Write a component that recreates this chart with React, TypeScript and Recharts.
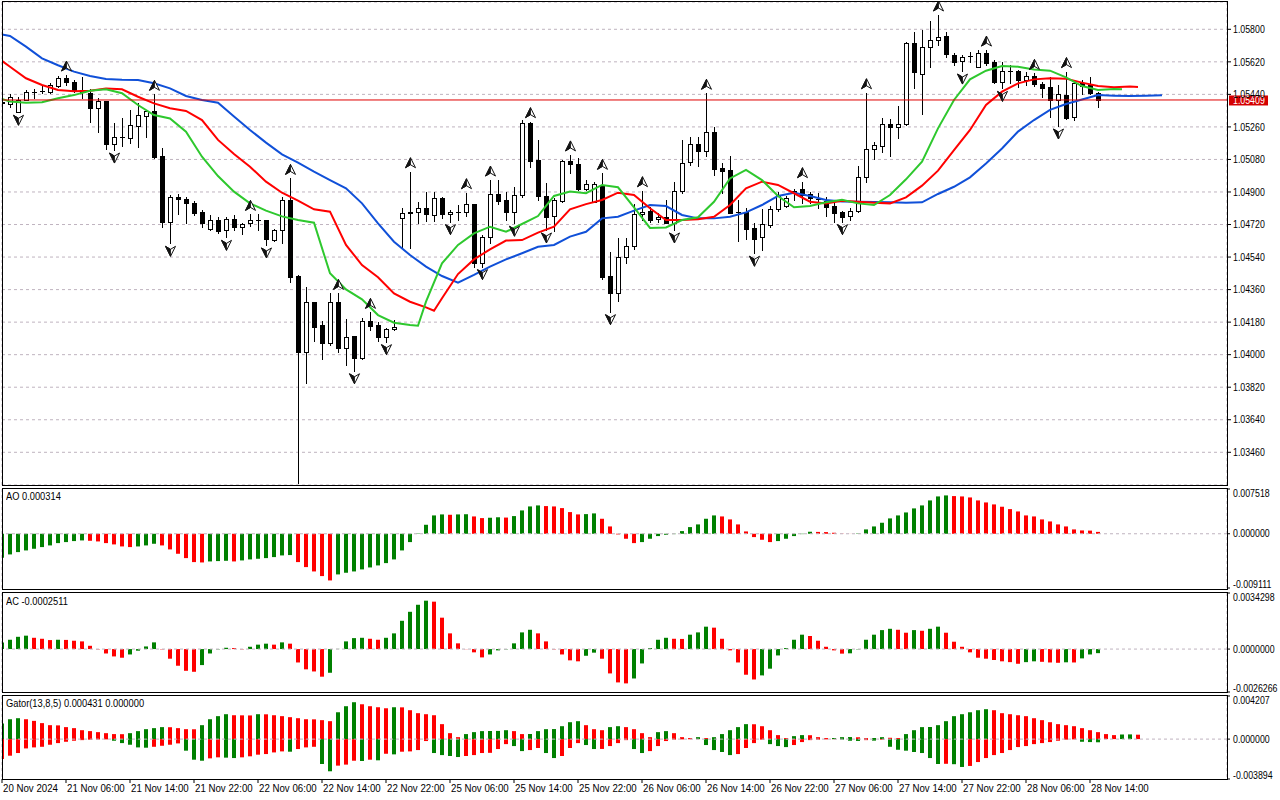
import React from "react";
import {
  ComposedChart,
  Bar,
  Line,
  Scatter,
  XAxis,
  YAxis,
  CartesianGrid,
  ReferenceLine,
  Cell,
} from "recharts";

// ---------- data (EURUSD H1, bar index -1 = 20 Nov 2024 22:00) ----------
const FIRST_INDEX = -1;

const openPrice = [
  1.05398,
  1.05387, 1.05344, 1.05409, 1.05451, 1.05458, 1.05451, 1.05488, 1.05529, 1.0551, 1.05464,
  1.05449, 1.05363, 1.05403, 1.05164, 1.05202, 1.05197, 1.05267, 1.0532, 1.05348, 1.05099,
  1.04736, 1.0487, 1.04861, 1.04841, 1.04787, 1.04693, 1.04745, 1.0469, 1.04749, 1.04708,
  1.04727, 1.04745, 1.04745, 1.04634, 1.0469, 1.04856, 1.04435, 1.04013, 1.04289, 1.04164,
  1.04066, 1.04289, 1.04035, 1.04103, 1.0398, 1.04186, 1.04164, 1.041, 1.0414, 1.04754,
  1.04786, 1.04787, 1.0481, 1.04773, 1.04865, 1.04778, 1.04787, 1.04787, 1.04833, 1.04505,
  1.04649, 1.04889, 1.04856, 1.04787, 1.04883, 1.0528, 1.05077, 1.0488, 1.04767, 1.04852,
  1.05071, 1.05055, 1.04916, 1.04846, 1.04939, 1.04435, 1.04343, 1.04538, 1.04603, 1.04778,
  1.04795, 1.04749, 1.0476, 1.0473, 1.04907, 1.05064, 1.05163, 1.05127, 1.05234, 1.05031,
  1.05022, 1.04791, 1.04787, 1.04699, 1.04649, 1.04717, 1.04804, 1.04824, 1.04893, 1.04915,
  1.04887, 1.04861, 1.0485, 1.04822, 1.04787, 1.04767, 1.04795, 1.04981, 1.05136, 1.05156,
  1.05274, 1.05258, 1.05274, 1.05722, 1.05551, 1.057, 1.05741, 1.05763, 1.05658, 1.05625,
  1.05652, 1.05593, 1.05667, 1.05617, 1.0551, 1.05569, 1.05569, 1.05519, 1.05543, 1.05497,
  1.05479, 1.05409, 1.05436, 1.05313, 1.05501, 1.05492, 1.05446,
];
const highPrice = [
  1.0542,
  1.0544, 1.05424, 1.05464, 1.05468, 1.05486, 1.05501, 1.05542, 1.05547, 1.05519, 1.05534,
  1.05468, 1.05418, 1.05405, 1.0528, 1.05307, 1.05353, 1.0539, 1.05353, 1.0544, 1.05145,
  1.04883, 1.04887, 1.0487, 1.0485, 1.048, 1.04773, 1.04763, 1.0476, 1.04773, 1.04727,
  1.04776, 1.04776, 1.04745, 1.04693, 1.04874, 1.04975, 1.04441, 1.04372, 1.04293, 1.04188,
  1.04339, 1.04339, 1.04197, 1.04103, 1.04201, 1.04234, 1.04183, 1.04149, 1.04192, 1.0481,
  1.05012, 1.04846, 1.04898, 1.04898, 1.04874, 1.048, 1.04828, 1.04896, 1.04833, 1.04662,
  1.04966, 1.04966, 1.04902, 1.04926, 1.05298, 1.05289, 1.05188, 1.04948, 1.04865, 1.05077,
  1.05105, 1.05086, 1.04966, 1.04953, 1.05003, 1.04566, 1.04644, 1.04644, 1.04833, 1.04907,
  1.04819, 1.04782, 1.04856, 1.04957, 1.05188, 1.05206, 1.05206, 1.05446, 1.05261, 1.05058,
  1.05099, 1.04856, 1.0481, 1.04726, 1.04806, 1.04824, 1.04902, 1.04878, 1.04915, 1.04957,
  1.04902, 1.04893, 1.04874, 1.04841, 1.04797, 1.0481, 1.05046, 1.05449, 1.05178, 1.05307,
  1.05302, 1.05376, 1.05732, 1.05787, 1.05796, 1.05846, 1.05879, 1.05787, 1.05667, 1.05658,
  1.05676, 1.05685, 1.05685, 1.0563, 1.05621, 1.05602, 1.05575, 1.05566, 1.05556, 1.0551,
  1.05538, 1.05492, 1.05566, 1.05505, 1.05519, 1.05538, 1.05455,
];
const lowPrice = [
  1.0538,
  1.05372, 1.05341, 1.05409, 1.05418, 1.05446, 1.05446, 1.05479, 1.05492, 1.05455, 1.05418,
  1.05289, 1.05234, 1.05136, 1.05132, 1.05156, 1.05169, 1.05147, 1.05206, 1.05086, 1.04708,
  1.04616, 1.04776, 1.04727, 1.04773, 1.04708, 1.0469, 1.04671, 1.04649, 1.0469, 1.04666,
  1.04712, 1.0469, 1.04607, 1.04631, 1.04616, 1.04404, 1.03288, 1.03841, 1.04077, 1.03974,
  1.04053, 1.04017, 1.03943, 1.03911, 1.03974, 1.04136, 1.04077, 1.04072, 1.04136, 1.04588,
  1.04588, 1.0473, 1.04741, 1.04741, 1.04754, 1.04736, 1.04745, 1.04767, 1.04487, 1.04487,
  1.04616, 1.04833, 1.04745, 1.04727, 1.04874, 1.0504, 1.04856, 1.0469, 1.04686, 1.04846,
  1.05007, 1.04911, 1.04911, 1.04843, 1.04417, 1.04238, 1.04299, 1.04505, 1.04583, 1.04745,
  1.04736, 1.04736, 1.04727, 1.0469, 1.04896, 1.05049, 1.05044, 1.05099, 1.04994, 1.04893,
  1.04782, 1.04631, 1.04638, 1.04561, 1.04579, 1.04708, 1.04797, 1.04815, 1.04856, 1.04841,
  1.04841, 1.0481, 1.04767, 1.04736, 1.04736, 1.04745, 1.04791, 1.04957, 1.05081, 1.05123,
  1.05101, 1.05197, 1.05271, 1.05473, 1.0533, 1.05593, 1.05713, 1.05649, 1.05602, 1.05569,
  1.05621, 1.0559, 1.05602, 1.05501, 1.05473, 1.05501, 1.05483, 1.05492, 1.05486, 1.05424,
  1.05313, 1.05265, 1.05304, 1.05298, 1.05442, 1.0544, 1.05372,
];
const closePrice = [
  1.0539,
  1.05427, 1.05409, 1.05451, 1.05453, 1.05461, 1.05492, 1.05529, 1.05507, 1.0546, 1.05455,
  1.05363, 1.05403, 1.05164, 1.05206, 1.05204, 1.05271, 1.05326, 1.05348, 1.05095, 1.04736,
  1.0487, 1.04859, 1.04837, 1.04782, 1.04727, 1.04745, 1.04686, 1.04749, 1.04708, 1.04721,
  1.04745, 1.04743, 1.0464, 1.0469, 1.04856, 1.04431, 1.04013, 1.04289, 1.04155, 1.04066,
  1.04289, 1.04035, 1.041, 1.0398, 1.04186, 1.04159, 1.041, 1.04142, 1.04151, 1.04782,
  1.04787, 1.0481, 1.04776, 1.04865, 1.04776, 1.04787, 1.04789, 1.04833, 1.04505, 1.04649,
  1.04889, 1.04852, 1.04787, 1.04883, 1.0528, 1.05073, 1.0488, 1.04763, 1.04856, 1.05071,
  1.05053, 1.04916, 1.04942, 1.04942, 1.04431, 1.04343, 1.04538, 1.04603, 1.04778, 1.04791,
  1.04745, 1.0476, 1.0473, 1.04907, 1.05062, 1.05163, 1.05129, 1.05234, 1.05027, 1.05018,
  1.04786, 1.04789, 1.04695, 1.04638, 1.04721, 1.04804, 1.04883, 1.04865, 1.04907, 1.04883,
  1.04865, 1.04859, 1.04819, 1.04782, 1.04763, 1.04795, 1.04981, 1.05136, 1.0516, 1.05274,
  1.05258, 1.05274, 1.05722, 1.05562, 1.057, 1.05741, 1.05759, 1.05661, 1.05621, 1.05649,
  1.0565, 1.05667, 1.05612, 1.0551, 1.05569, 1.05571, 1.05519, 1.05543, 1.05497, 1.05473,
  1.05409, 1.0544, 1.05307, 1.05501, 1.05486, 1.05446, 1.05409,
];

// Alligator lines read at bar indices: [bar, price]
const jawPoints = [
  [-1, 1.05772], [0, 1.05763], [2, 1.05704], [4, 1.05639], [6, 1.05601], [8, 1.05566], [10, 1.05542],
  [12, 1.05525], [14, 1.05521], [16, 1.05519], [18, 1.05501], [20, 1.05473], [22, 1.05431], [24, 1.05409],
  [26, 1.05394], [28, 1.05317], [30, 1.05243], [32, 1.05173], [34, 1.05108], [36, 1.05062], [38, 1.05012],
  [40, 1.04966], [42, 1.0492], [44, 1.04837], [46, 1.04726], [48, 1.04625], [50, 1.04551], [52, 1.04487],
  [54, 1.04435], [56, 1.04398], [58, 1.04441], [60, 1.04487], [62, 1.04527], [64, 1.04561], [66, 1.04597],
  [68, 1.04607], [70, 1.04653], [72, 1.0468], [74, 1.04754], [76, 1.04763], [78, 1.04797], [80, 1.04828],
  [82, 1.04822], [84, 1.04773], [86, 1.04754], [88, 1.04754], [90, 1.04763], [92, 1.04787], [94, 1.04828],
  [96, 1.04878], [98, 1.04896], [100, 1.04878], [102, 1.04856], [104, 1.04848], [106, 1.04846],
  [108, 1.04845], [110, 1.04843], [112, 1.04841], [114, 1.04843], [116, 1.04889], [118, 1.04929],
  [120, 1.04981], [122, 1.05058], [124, 1.05141], [126, 1.05234], [128, 1.05298], [130, 1.05354],
  [132, 1.05387], [134, 1.05412], [136, 1.05436], [138, 1.05433], [140, 1.05431], [142, 1.05433], [144, 1.05435],
];
const teethPoints = [
  [-1, 1.05625], [0, 1.05593], [2, 1.05529], [4, 1.05492], [6, 1.05464], [8, 1.05457], [10, 1.0546],
  [12, 1.05472], [14, 1.05468], [16, 1.05427], [18, 1.0539], [20, 1.05363], [22, 1.05348], [24, 1.05298],
  [26, 1.05188], [28, 1.0511], [30, 1.0504], [32, 1.04957], [34, 1.04896], [36, 1.04852], [38, 1.04804],
  [40, 1.04791], [42, 1.04607], [44, 1.04496], [46, 1.04428], [48, 1.04339], [50, 1.04293], [52, 1.04262],
  [53, 1.04243], [54, 1.04312], [56, 1.04446], [58, 1.04527], [60, 1.04583], [62, 1.04631], [64, 1.04634],
  [66, 1.04675], [68, 1.04708], [70, 1.04804], [72, 1.04833], [74, 1.04856], [76, 1.04896], [78, 1.04883],
  [80, 1.0481], [82, 1.04745], [84, 1.04745], [86, 1.04749], [88, 1.04763], [90, 1.04828], [92, 1.0492],
  [94, 1.04957], [96, 1.04939], [98, 1.04893], [100, 1.04846], [102, 1.04837], [104, 1.04852],
  [106, 1.04846], [108, 1.04841], [110, 1.04837], [112, 1.0487], [114, 1.04935], [116, 1.05018],
  [118, 1.05132], [120, 1.05243], [122, 1.05381], [124, 1.05455], [126, 1.05501], [128, 1.05523],
  [130, 1.05529], [132, 1.05527], [134, 1.05505], [136, 1.05486], [138, 1.05479], [140, 1.05483], [141, 1.05481],
];
const lipsPoints = [
  [-1, 1.05414], [0, 1.054], [2, 1.05394], [4, 1.05396], [6, 1.05418], [8, 1.05436], [10, 1.0546],
  [12, 1.05468], [14, 1.05446], [16, 1.05381], [18, 1.05326], [20, 1.05307], [22, 1.05234], [24, 1.05095],
  [26, 1.04988], [28, 1.04902], [30, 1.04837], [32, 1.04797], [34, 1.04765], [36, 1.04745], [38, 1.0473],
  [40, 1.0445], [42, 1.04361], [44, 1.04306], [46, 1.04219], [48, 1.04177], [50, 1.04164], [51, 1.0416],
  [52, 1.04293], [54, 1.04505], [56, 1.04607], [58, 1.04671], [60, 1.04708], [62, 1.0468], [64, 1.04723],
  [66, 1.04767], [68, 1.04878], [70, 1.04902], [72, 1.04893], [74, 1.04939], [76, 1.04926], [78, 1.04815],
  [80, 1.04701], [82, 1.04704], [84, 1.04745], [86, 1.0476], [88, 1.04846], [90, 1.04975], [92, 1.05022],
  [94, 1.04966], [96, 1.04878], [98, 1.04815], [100, 1.04822], [102, 1.04843], [104, 1.04857],
  [106, 1.04837], [108, 1.04828], [110, 1.04883], [112, 1.0497], [114, 1.05068], [116, 1.05252],
  [118, 1.05409], [120, 1.05523], [122, 1.05571], [124, 1.05597], [126, 1.05593], [128, 1.05578],
  [130, 1.05571], [132, 1.05534], [134, 1.05486], [136, 1.05464], [138, 1.0547], [139, 1.05468],
];

const fractalUpBars = [7, 18, 30, 35, 41, 45, 50, 57, 60, 65, 70, 74, 79, 87, 99, 107, 116, 122, 128, 132];
const fractalDownBars = [1, 13, 20, 27, 32, 36, 43, 47, 55, 59, 63, 67, 75, 83, 93, 104, 119, 124, 131];

const aoValues = [
  -0.00403,
  -0.00347, -0.00308, -0.0028, -0.00252, -0.00224, -0.00196, -0.00157, -0.0014, -0.00123, -0.00112,
  -0.00118, -0.00129, -0.00157, -0.00179, -0.00213, -0.00224, -0.00213, -0.00196, -0.00168, -0.00196,
  -0.00263, -0.00336, -0.00409, -0.00476, -0.00482, -0.00465, -0.00459, -0.00454, -0.00465, -0.00448,
  -0.00431, -0.0042, -0.00409, -0.00392, -0.00364, -0.00358, -0.00476, -0.0056, -0.00633, -0.00711,
  -0.00784, -0.00683, -0.00655, -0.00633, -0.00599, -0.00566, -0.00532, -0.00493, -0.00431, -0.0028,
  -0.0014, 0.00006, 0.00151, 0.00308, 0.00325, 0.00319, 0.00325, 0.00328, 0.00291, 0.00263,
  0.00269, 0.00277, 0.00272, 0.00297, 0.00392, 0.00459, 0.00476, 0.00465, 0.00459, 0.00431,
  0.00364, 0.00325, 0.0033, 0.00342, 0.00252, 0.00123, -0.00011, -0.00084, -0.00157, -0.0014,
  -0.00084, -0.00039, -0.00017, -0.00006, 0.00045, 0.00112, 0.00157, 0.00252, 0.00308, 0.00291,
  0.00241, 0.00157, 0.00039, -0.00056, -0.00101, -0.0014, -0.00123, -0.00084, -0.00039, -0.00006,
  0.00034, 0.00031, 0.00028, 0.00017, 0.00003, 0.00001, 0.00006, 0.00073, 0.00123, 0.00185,
  0.00258, 0.00308, 0.00358, 0.00426, 0.00476, 0.0056, 0.00627, 0.00644, 0.00633, 0.00627,
  0.0061, 0.0056, 0.00526, 0.00493, 0.00454, 0.00414, 0.00375, 0.00308, 0.00291, 0.00241,
  0.00207, 0.00157, 0.00123, 0.00073, 0.00056, 0.00053, 0.000314,
];
const acValues = [
  0.0004,
  0.00057, 0.00075, 0.00082, 0.00069, 0.00063, 0.00055, 0.00057, 0.00056, 0.00051, 0.00047,
  0.0002, -0.00002, -0.00027, -0.00045, -0.00053, -0.00033, -0.0001, 0.00016, 0.00041, -0.00002,
  -0.00059, -0.00102, -0.00133, -0.00139, -0.00098, -0.00027, -0.00002, 0.00008, 0.00006, -0.00002,
  0.00014, 0.00027, 0.00033, 0.00027, 0.00041, 0.00033, -0.00082, -0.00124, -0.00137, -0.00169,
  -0.00145, 0.00001, 0.00047, 0.00067, 0.00069, 0.00063, 0.00057, 0.00069, 0.00096, 0.00173,
  0.00228, 0.00271, 0.00296, 0.0029, 0.00192, 0.00096, 0.00035, -0.00001, -0.0002, -0.00051,
  -0.00033, -0.00008, -0.00002, 0.00035, 0.00102, 0.00118, 0.00096, 0.00047, -0.00002, -0.00033,
  -0.00069, -0.00075, -0.00041, -0.00022, -0.00059, -0.00149, -0.00204, -0.0021, -0.0018, -0.00088,
  0.00006, 0.00057, 0.00069, 0.00063, 0.00062, 0.00088, 0.00102, 0.00137, 0.00131, 0.00063,
  -0.00008, -0.00082, -0.00157, -0.00186, -0.00161, -0.0012, -0.00039, 0.00006, 0.00057, 0.00088,
  0.0008, 0.00051, 0.00014, -0.00008, -0.00028, -0.00026, -0.00002, 0.00057, 0.00088, 0.00116,
  0.00124, 0.00118, 0.001, 0.00116, 0.00112, 0.00124, 0.00137, 0.001, 0.00045, 0.00014,
  -0.0002, -0.00053, -0.00059, -0.00067, -0.00075, -0.0008, -0.0009, -0.0008, -0.00075, -0.00078,
  -0.00082, -0.00084, -0.00081, -0.00082, -0.00057, -0.00033, -0.00025,
];
const gatorUpper = [
  0.00152,
  0.00194, 0.00204, 0.00194, 0.00178, 0.00156, 0.00136, 0.00134, 0.00117, 0.00107, 0.00087,
  0.00078, 0.00068, 0.00058, 0.00049, 0.00048, 0.00058, 0.00078, 0.00097, 0.00107, 0.00117,
  0.00116, 0.00107, 0.00097, 0.00096, 0.00136, 0.00194, 0.00224, 0.00243, 0.00233, 0.00232,
  0.00231, 0.00243, 0.00242, 0.00233, 0.00224, 0.00214, 0.00204, 0.00194, 0.00193, 0.00185,
  0.00175, 0.00262, 0.00321, 0.0036, 0.0034, 0.00321, 0.00311, 0.00301, 0.00311, 0.0031,
  0.00282, 0.00253, 0.00243, 0.00233, 0.00146, 0.00058, 0.00019, 0.00049, 0.00068, 0.00078,
  0.00079, 0.0008, 0.00087, 0.00078, 0.00049, 0.0005, 0.00078, 0.00097, 0.00098, 0.00126,
  0.00165, 0.00175, 0.00136, 0.00097, 0.00087, 0.00117, 0.00126, 0.00117, 0.00097, 0.00058,
  0.00019, 0.00068, 0.00078, 0.00058, 0.00019, 0.0001, 0.00019, 0.0001, 0.00019, 0.00049,
  0.00087, 0.00117, 0.00146, 0.00145, 0.00126, 0.00087, 0.00039, 0.0001, 0.00029, 0.00039,
  0.00038, 0.00019, 0.0001, 0.00011, 0.00019, 0.0002, 0.00018, 0.0001, 0.00011, 0.00019,
  0.00013, 0.0001, 0.00049, 0.00087, 0.00117, 0.00118, 0.00136, 0.00175, 0.00224, 0.00243,
  0.00262, 0.00282, 0.00292, 0.00282, 0.00253, 0.00243, 0.00233, 0.00224, 0.00204, 0.00185,
  0.00165, 0.00146, 0.00136, 0.00126, 0.00107, 0.00087, 0.00068, 0.00049, 0.00039, 0.00045,
  0.00046, 0.000431,
];
const gatorLower = [
  -0.00194,
  -0.00162, -0.00136, -0.00091, -0.00081, -0.00075, -0.00055, -0.00039, -0.00026, -0.00016, -0.0001,
  -0.00006, -0.00004, -0.00003, -0.00016, -0.00039, -0.00055, -0.00081, -0.00084, -0.00075, -0.00065,
  -0.00055, -0.00042, -0.00113, -0.00201, -0.00211, -0.00188, -0.00178, -0.00181, -0.00185, -0.00178,
  -0.00168, -0.00152, -0.00146, -0.0013, -0.0012, -0.00123, -0.00097, -0.00081, -0.00075, -0.00243,
  -0.00314, -0.00259, -0.00249, -0.00211, -0.00214, -0.00201, -0.00207, -0.00143, -0.00149, -0.00123,
  -0.0012, -0.00107, -0.00019, -0.00136, -0.00156, -0.00165, -0.00175, -0.00165, -0.00156, -0.00136,
  -0.00134, -0.00097, -0.00049, -0.00068, -0.00117, -0.00107, -0.00087, -0.00136, -0.00185, -0.00165,
  -0.00087, -0.00039, -0.00058, -0.00097, -0.00096, -0.00068, -0.00039, -0.0001, -0.00097, -0.00136,
  -0.00117, -0.00068, -0.00019, -0.00006, -0.00003, -0.000016, -0.00001, -0.00058, -0.00107, -0.00126,
  -0.00156, -0.00146, -0.00087, -0.00039, -0.00006, -0.00049, -0.00068, -0.00078, -0.00058, -0.00029,
  -0.0001, -0.00006, -0.00003, -0.000016, -0.00005, -0.00016, -0.00018, -0.0001, -0.00015, -0.00006,
  -0.00075, -0.00104, -0.00113, -0.00126, -0.00136, -0.00185, -0.00243, -0.00241, -0.00245, -0.00272,
  -0.00262, -0.00224, -0.00185, -0.00156, -0.00136, -0.00107, -0.00078, -0.00068, -0.00049, -0.00039,
  -0.00029, -0.00016, -0.00006, -0.00003, -0.00026, -0.00029, -0.00031,
];

const timeTickBars = [-1, 7, 15, 23, 31, 39, 47, 55, 63, 71, 79, 87, 95, 103, 111, 119, 127, 135];
const timeTickLabels = [
  "20 Nov 2024", "21 Nov 06:00", "21 Nov 14:00", "21 Nov 22:00", "22 Nov 06:00", "22 Nov 14:00",
  "22 Nov 22:00", "25 Nov 06:00", "25 Nov 14:00", "25 Nov 22:00", "26 Nov 06:00", "26 Nov 14:00",
  "26 Nov 22:00", "27 Nov 06:00", "27 Nov 14:00", "27 Nov 22:00", "28 Nov 06:00", "28 Nov 14:00",
];
const priceTicks = [1.0346, 1.0364, 1.0382, 1.04, 1.0418, 1.0436, 1.0454, 1.0472, 1.049, 1.0508, 1.0526, 1.0544, 1.0562, 1.058];
const lastPrice = 1.05409;
const priceRange = [1.03279, 1.05951];
const aoRange = [-0.009111, 0.007518];
const acRange = [-0.0026266, 0.0034298];
const gatorRange = [-0.003894, 0.004207];
const aoTitle = "AO 0.000314";
const acTitle = "AC -0.0002511";
const gatorTitle = "Gator(13,8,5) 0.000431 0.000000";

// ---------- styling ----------
const X_DOMAIN = [-1, 152.125];
const GRID_BARS = Array.from({ length: 38 }, (_, k) => 3 + 4 * k);
const FONT = "'Liberation Sans', Arial, sans-serif";
const FS = 10;
const SX_AXIS = 0.88; // horizontal squeeze to mimic the narrow terminal font
const SX_TIME = 0.97;
const SX_TITLE = 0.93;
const GRID = "#bfb3bf";
const UP = "#008000";
const DOWN = "#ff0000";

// ---------- rows ----------
const mainRows: any[] = [];
for (let i = FIRST_INDEX; i <= 144; i++) mainRows.push({ i });
openPrice.forEach((o, k) => {
  const r = mainRows[k];
  r.o = o;
  r.h = highPrice[k];
  r.l = lowPrice[k];
  r.c = closePrice[k];
});
const putLine = (pts: number[][], key: string) =>
  pts.forEach(([i, v]) => {
    mainRows[i - FIRST_INDEX][key] = v;
  });
putLine(jawPoints, "jaw");
putLine(teethPoints, "teeth");
putLine(lipsPoints, "lips");

const fracUpData = fractalUpBars.map((i) => ({ i, v: highPrice[i - FIRST_INDEX] }));
const fracDownData = fractalDownBars.map((i) => ({ i, v: lowPrice[i - FIRST_INDEX] }));

const subRows: any[] = [];
for (let i = FIRST_INDEX; i <= 141; i++) subRows.push({ i });
const colorBy = (vals: number[], key: string, abs: boolean, first: string) =>
  vals.forEach((v, k) => {
    subRows[k][key] = v;
    const a = abs ? Math.abs(v) : v;
    const p = k === 0 ? null : abs ? Math.abs(vals[k - 1]) : vals[k - 1];
    subRows[k][key + "Fill"] = p == null ? first : a > p ? UP : DOWN;
  });
colorBy(aoValues, "ao", false, UP);
colorBy(acValues, "ac", false, UP);
colorBy(gatorUpper, "gu", false, UP);
colorBy(gatorLower, "gd", true, DOWN);

const candleRange = (d: any) => (d.h == null ? null : [d.l, d.h]);

// ---------- shapes ----------
function SvgText({ x, y, fill = "#000", sx = SX_AXIS, children }: any) {
  return (
    <text
      transform={`translate(${x},${y}) scale(${sx},1)`}
      fill={fill}
      fontFamily={FONT}
      fontSize={FS}
      dominantBaseline="central"
      textAnchor="start"
    >
      {children}
    </text>
  );
}

function Candle(props: any) {
  const { x, y, width, height, payload } = props;
  if (!payload || payload.h == null || x == null || y == null || isNaN(y)) return <g />;
  const yTop = Math.min(y, y + height);
  const yBot = Math.max(y, y + height);
  const cx = Math.round(x + width / 2);
  const span = payload.h - payload.l;
  const yAt = (v: number) => (span === 0 ? yTop : yTop + ((payload.h - v) / span) * (yBot - yTop));
  const yo = yAt(payload.o);
  const yc = yAt(payload.c);
  const top = Math.round(Math.min(yo, yc));
  const bot = Math.round(Math.max(yo, yc));
  const bull = payload.c >= payload.o;
  return (
    <g shapeRendering="crispEdges">
      <line x1={cx + 0.5} x2={cx + 0.5} y1={Math.round(yTop)} y2={Math.round(yBot) + 1} stroke="#000" />
      {bot - top < 1 ? (
        <line x1={cx - 2} x2={cx + 3} y1={top + 0.5} y2={top + 0.5} stroke="#000" />
      ) : (
        <rect x={cx - 1.5} y={top + 0.5} width={4} height={bot - top} fill={bull ? "#fff" : "#000"} stroke="#000" />
      )}
    </g>
  );
}

function Arrow({ x, tip, base, notch }: any) {
  // outline with the left half filled, like the terminal's fractal glyph
  return (
    <g>
      <path
        d={`M${x},${tip} L${x + 5},${base} L${x},${notch} L${x - 5},${base} Z`}
        fill="#fff"
        stroke="#111"
        strokeWidth={1}
        strokeLinejoin="round"
      />
      <path d={`M${x},${tip} L${x},${notch} L${x - 5},${base} Z`} fill="#111" stroke="#111" strokeWidth={0.8} strokeLinejoin="round" />
    </g>
  );
}

function FractalUp(props: any) {
  const { cx, cy } = props;
  if (cx == null || cy == null) return <g />;
  const x = Math.round(cx) + 0.5;
  const b = cy - 4;
  return <Arrow x={x} tip={b - 10} base={b} notch={b - 3} />;
}

function FractalDown(props: any) {
  const { cx, cy } = props;
  if (cx == null || cy == null) return <g />;
  const x = Math.round(cx) + 0.5;
  const t = cy + 3;
  return <Arrow x={x} tip={t + 10} base={t} notch={t + 3} />;
}

function PriceTag(props: any) {
  const vb = props.viewBox || {};
  const x = (vb.x || 0) + (vb.width || 0) + 2;
  const y = vb.y || 0;
  return (
    <g>
      <rect x={x} y={y - 4.5} width={39} height={10} fill="#d40000" />
      <SvgText x={x + 4} y={y + 0.5} fill="#fff">
        {lastPrice.toFixed(5)}
      </SvgText>
    </g>
  );
}

function PriceTick(props: any) {
  const { x, y, payload } = props;
  return (
    <SvgText x={x} y={y}>
      {Number(payload.value).toFixed(5)}
    </SvgText>
  );
}

function SideTick(props: any) {
  const { x, y, payload, digits, lo, hi } = props;
  let dy = 0;
  if (Math.abs(payload.value - hi) < 1e-12) dy = 4;
  else if (Math.abs(payload.value - lo) < 1e-12) dy = -4;
  return (
    <SvgText x={x} y={y + dy}>
      {Number(payload.value).toFixed(digits)}
    </SvgText>
  );
}

function TimeTick(props: any) {
  const { x, y, payload } = props;
  const k = timeTickBars.indexOf(payload.value);
  return (
    <SvgText x={x + 1} y={y + 3.3} sx={SX_TIME}>
      {k >= 0 ? timeTickLabels[k] : ""}
    </SvgText>
  );
}

const box = (top: number, height: number): React.CSSProperties => ({
  position: "absolute",
  left: 2,
  top,
  width: 1226,
  height,
  border: "1px solid #000",
  boxSizing: "border-box",
  pointerEvents: "none",
});

const title = (top: number): React.CSSProperties => ({
  position: "absolute",
  left: 6,
  top,
  fontFamily: FONT,
  fontSize: FS,
  lineHeight: "12px",
  color: "#000",
  whiteSpace: "nowrap",
  transform: `scaleX(${SX_TITLE})`,
  transformOrigin: "0 0",
});

function SubPanel({ dataKey, range, digits, top }: any) {
  return (
    <div style={{ position: "absolute", left: 0, top }}>
      <ComposedChart width={1280} height={103} data={subRows} margin={{ top: 2, right: 0, bottom: 2, left: 2 }}>
        <CartesianGrid stroke={GRID} strokeDasharray="3 3" horizontal={false} />
        <XAxis
          type="number"
          dataKey="i"
          domain={X_DOMAIN}
          allowDataOverflow
          ticks={GRID_BARS}
          tick={false}
          tickLine={false}
          axisLine={false}
          height={0}
        />
        <YAxis
          orientation="right"
          width={53}
          domain={range}
          allowDataOverflow
          ticks={[range[0], 0, range[1]]}
          interval={0}
          tick={<SideTick digits={digits} lo={range[0]} hi={range[1]} />}
          tickSize={3}
          tickMargin={3}
          tickLine={{ stroke: "#000" }}
          axisLine={false}
        />
        <ReferenceLine y={0} stroke={GRID} strokeDasharray="3 3" />
        <Bar dataKey={dataKey} barSize={4} isAnimationActive={false}>
          {subRows.map((r, k) => (
            <Cell key={k} fill={r[dataKey + "Fill"] || UP} />
          ))}
        </Bar>
      </ComposedChart>
    </div>
  );
}

export default function App() {
  return (
    <div style={{ position: "absolute", left: 0, top: 0, width: 1280, height: 800, background: "#fff", overflow: "hidden" }}>
      <div style={{ position: "absolute", left: 0, top: 0 }}>
        <ComposedChart width={1280} height={486} data={mainRows} margin={{ top: 2, right: 0, bottom: 1, left: 2 }}>
          <CartesianGrid stroke={GRID} strokeDasharray="3 3" />
          <XAxis
            type="number"
            dataKey="i"
            domain={X_DOMAIN}
            allowDataOverflow
            ticks={GRID_BARS}
            tick={false}
            tickLine={false}
            axisLine={false}
            height={0}
          />
          <YAxis
            orientation="right"
            width={53}
            domain={priceRange}
            allowDataOverflow
            ticks={priceTicks}
            interval={0}
            tick={<PriceTick />}
            tickSize={4}
            tickMargin={2}
            tickLine={{ stroke: "#000" }}
            axisLine={false}
          />
          <Bar dataKey={candleRange} barSize={5} shape={(p: any) => <Candle {...p} />} isAnimationActive={false} />
          <Line dataKey="jaw" type="linear" stroke="#1050d8" strokeWidth={2} dot={false} activeDot={false} connectNulls isAnimationActive={false} />
          <Line dataKey="teeth" type="linear" stroke="#ff0000" strokeWidth={2} dot={false} activeDot={false} connectNulls isAnimationActive={false} />
          <Line dataKey="lips" type="linear" stroke="#2ec82e" strokeWidth={2} dot={false} activeDot={false} connectNulls isAnimationActive={false} />
          <Scatter data={fracUpData} dataKey="v" shape={(p: any) => <FractalUp {...p} />} isAnimationActive={false} />
          <Scatter data={fracDownData} dataKey="v" shape={(p: any) => <FractalDown {...p} />} isAnimationActive={false} />
          <ReferenceLine y={lastPrice} stroke="#e00000" label={(p: any) => <PriceTag {...p} />} />
        </ComposedChart>
      </div>

      <SubPanel dataKey="ao" range={aoRange} digits={6} top={487} />
      <SubPanel dataKey="ac" range={acRange} digits={7} top={591} />

      <div style={{ position: "absolute", left: 0, top: 694 }}>
        <ComposedChart
          width={1280}
          height={106}
          data={subRows}
          stackOffset="sign"
          margin={{ top: 2, right: 0, bottom: 0, left: 2 }}
        >
          <CartesianGrid stroke={GRID} strokeDasharray="3 3" horizontal={false} xAxisId="grid" />
          <XAxis
            type="number"
            dataKey="i"
            domain={X_DOMAIN}
            allowDataOverflow
            ticks={timeTickBars}
            interval={0}
            tick={<TimeTick />}
            tickSize={4}
            tickMargin={2}
            tickLine={{ stroke: "#000" }}
            axisLine={false}
            height={21}
          />
          <XAxis
            xAxisId="grid"
            type="number"
            dataKey="i"
            domain={X_DOMAIN}
            allowDataOverflow
            ticks={GRID_BARS}
            tick={false}
            tickLine={false}
            axisLine={false}
            height={0}
          />
          <YAxis
            orientation="right"
            width={53}
            domain={gatorRange}
            allowDataOverflow
            ticks={[gatorRange[0], 0, gatorRange[1]]}
            interval={0}
            tick={<SideTick digits={6} lo={gatorRange[0]} hi={gatorRange[1]} />}
            tickSize={3}
            tickMargin={3}
            tickLine={{ stroke: "#000" }}
            axisLine={false}
          />
          <ReferenceLine y={0} stroke={GRID} strokeDasharray="3 3" />
          <Bar dataKey="gu" stackId="g" barSize={4} isAnimationActive={false}>
            {subRows.map((r, k) => (
              <Cell key={k} fill={r.guFill || UP} />
            ))}
          </Bar>
          <Bar dataKey="gd" stackId="g" barSize={4} isAnimationActive={false}>
            {subRows.map((r, k) => (
              <Cell key={k} fill={r.gdFill || DOWN} />
            ))}
          </Bar>
        </ComposedChart>
      </div>

      <div style={box(1, 485)} />
      <div style={box(488, 102)} />
      <div style={box(592, 101)} />
      <div style={box(695, 85)} />

      <div style={title(491)}>{aoTitle}</div>
      <div style={title(596)}>{acTitle}</div>
      <div style={title(698)}>{gatorTitle}</div>
    </div>
  );
}
